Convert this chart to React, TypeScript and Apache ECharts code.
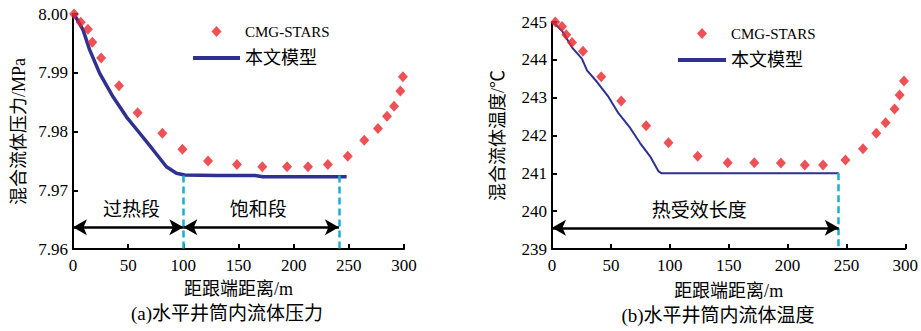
import React, { useEffect, useRef } from "react";
import * as echarts from "echarts";

// ---------- (a) pressure ----------
const cmgPressureX = [1, 7, 13.5, 17.5, 25.5, 41.7, 58.6, 81, 99.2, 122.4, 148.6, 171.6, 194, 213, 231, 249, 264, 276.4, 284.6, 291, 296.7, 299];
const cmgPressure = [8.0, 7.9986, 7.9974, 7.9952, 7.9925, 7.9878, 7.9832, 7.9797, 7.977, 7.975, 7.9744, 7.974, 7.974, 7.974, 7.9744, 7.9758, 7.9785, 7.9805, 7.9826, 7.9843, 7.9869, 7.9893];
const modelPressureX = [0, 1.5, 9.1, 15.1, 24.2, 36.3, 48.4, 60.5, 72.5, 84.7, 93.7, 101.2, 130, 165, 172, 248];
const modelPressure = [8.0, 7.9998, 7.9973, 7.9939, 7.9899, 7.9859, 7.9825, 7.9797, 7.9769, 7.974, 7.9729, 7.9726, 7.9725, 7.9725, 7.9723, 7.9723];
const pressureBoundaryX = [100, 241];
const pressureLineLevel = 7.9725;
const pressureArrowY = 7.9637;
const pressureLabelY = 7.9668;
const pressureLabels = ["过热段", "饱和段"];
const pressureLabelX = [53, 168];
const pressureTicks = [7.96, 8.0, 0.01];

// ---------- (b) temperature ----------
const cmgTempX = [2.8, 8.5, 12.1, 17, 26.3, 41.8, 58.8, 80, 98.9, 123.7, 149.2, 171.8, 194.4, 214.7, 230.2, 249.2, 264.1, 275.4, 283.3, 290.9, 295.2, 298.9];
const cmgTemp = [245.0, 244.88, 244.66, 244.46, 244.23, 243.55, 242.91, 242.26, 241.81, 241.45, 241.28, 241.28, 241.27, 241.22, 241.22, 241.35, 241.65, 242.06, 242.34, 242.7, 243.07, 243.44];
const modelTempX = [0, 1.4, 8.5, 16.9, 25.4, 29.7, 38.1, 48.0, 56.4, 66.4, 74.8, 83.3, 90.3, 93.2, 243.5];
const modelTemp = [245.0, 244.98, 244.77, 244.33, 244.03, 243.72, 243.42, 243.02, 242.59, 242.2, 241.8, 241.45, 241.06, 241.0, 241.0];
const tempBoundaryX = [243.5];
const tempLineLevel = 241.0;
const tempArrowY = 239.56;
const tempLabel = "热受效长度";
const tempLabelPos = [125, 240.02];
const tempTicks = [239, 245, 1];

const xTicks = [0, 300, 50];

const SERIF = '"Liberation Serif", "Noto Sans CJK SC", serif';
const RED = "#e8262a";
const BLUE = "#2e3192";
const CYAN = "#1aaed0";

const zip = (xs: number[], ys: number[]) => xs.map((x, i) => [x, ys[i]]);

export default function App() {
  const ref = useRef<HTMLDivElement>(null);
  useEffect(() => {
    if (!ref.current) return;
    const chart = echarts.init(ref.current, null, { renderer: "svg" });

    const axisCommon = {
      axisLine: { show: true, lineStyle: { color: "#000", width: 2 } },
      axisTick: { show: true, inside: true, length: 5, lineStyle: { color: "#000", width: 2 } },
      splitLine: { show: false },
      nameTextStyle: { color: "#000", fontSize: 18, fontFamily: SERIF },
    };
    const labelStyle = { color: "#000", fontSize: 17, fontFamily: SERIF };

    const arrowLine = (x0: number, x1: number, y: number) => [
      { coord: [x0, y], symbol: "arrow", symbolSize: [12, 14], lineStyle: { color: "#000", width: 2.5, type: "solid" } },
      { coord: [x1, y], symbol: "arrow", symbolSize: [12, 14] },
    ];
    const dashLine = (x: number, yTop: number, yBot: number) => [
      { coord: [x, yTop], symbol: "none", lineStyle: { color: CYAN, width: 2.5, type: [7, 4] } },
      { coord: [x, yBot], symbol: "none" },
    ];
    const textPoint = (name: string, x: number, y: number) => ({
      name,
      coord: [x, y],
      symbol: "circle",
      symbolSize: 1,
      itemStyle: { color: "rgba(0,0,0,0)" },
      label: { show: true, position: "inside", formatter: name, color: "#000", fontSize: 19, fontFamily: SERIF },
    });

    const legendFormatter = (name: string) => (name === "CMG-STARS" ? `{a|${name}}` : `{b|${name}}`);
    const legendRich = {
      a: { fontSize: 15, fontFamily: SERIF, color: "#000" },
      b: { fontSize: 18, fontFamily: SERIF, color: "#000" },
    };
    const legendData = [
      { name: "CMG-STARS", icon: "path://M5,0L10,5.5L5,11L0,5.5Z" },
      { name: "本文模型", icon: "path://M0,0L46,0L46,4L0,4Z" },
    ];

    chart.setOption({
      animation: false,
      backgroundColor: "#fff",
      grid: [
        { left: 73, top: 14, width: 331, height: 235 },
        { left: 552, top: 22, width: 354, height: 227 },
      ],
      legend: [
        {
          left: 188, top: 19, orient: "vertical", itemWidth: 47, itemHeight: 11, itemGap: 10,
          symbolKeepAspect: true,
          data: legendData, formatter: legendFormatter, textStyle: { rich: legendRich },
          selectedMode: false,
        },
        {
          left: 673, top: 21, orient: "vertical", itemWidth: 48, itemHeight: 11, itemGap: 10,
          symbolKeepAspect: true,
          data: legendData, formatter: legendFormatter, textStyle: { rich: legendRich },
          selectedMode: false,
        },
      ],
      xAxis: [
        {
          ...axisCommon, gridIndex: 0, type: "value", min: xTicks[0], max: xTicks[1], interval: xTicks[2],
          axisLabel: { ...labelStyle, margin: 8 },
          name: "距跟端距离/m", nameLocation: "middle", nameGap: 31,
        },
        {
          ...axisCommon, gridIndex: 1, type: "value", min: xTicks[0], max: xTicks[1], interval: xTicks[2],
          axisLabel: { ...labelStyle, margin: 8 },
          name: "距跟端距离/m", nameLocation: "middle", nameGap: 33,
        },
      ],
      yAxis: [
        {
          ...axisCommon, gridIndex: 0, type: "value", min: pressureTicks[0], max: pressureTicks[1], interval: pressureTicks[2],
          axisLabel: { ...labelStyle, margin: 5, formatter: (v: number) => v.toFixed(2) },
          name: "混合流体压力/MPa", nameLocation: "middle", nameGap: 45, nameRotate: 90,
        },
        {
          ...axisCommon, gridIndex: 1, type: "value", min: tempTicks[0], max: tempTicks[1], interval: tempTicks[2],
          axisLabel: { ...labelStyle, margin: 5 },
          name: "混合流体温度/℃", nameLocation: "middle", nameGap: 45, nameRotate: 90,
        },
      ],
      graphic: [
        {
          type: "text", x: 227, y: 313,
          style: { text: "(a)水平井筒内流体压力", font: `19px ${SERIF}`, fill: "#000", align: "center", verticalAlign: "middle" },
        },
        {
          type: "text", x: 718, y: 315,
          style: { text: "(b)水平井筒内流体温度", font: `19px ${SERIF}`, fill: "#000", align: "center", verticalAlign: "middle" },
        },
      ],
      series: [
        {
          name: "本文模型", type: "line", xAxisIndex: 0, yAxisIndex: 0,
          data: zip(modelPressureX, modelPressure), showSymbol: false, symbol: "none",
          lineStyle: { color: BLUE, width: 3.5 }, itemStyle: { color: BLUE }, z: 3,
          markLine: {
            silent: true, animation: false, label: { show: false },
            data: [
              dashLine(pressureBoundaryX[0], pressureLineLevel, pressureTicks[0]),
              dashLine(pressureBoundaryX[1], pressureLineLevel, pressureTicks[0]),
              arrowLine(0, pressureBoundaryX[0], pressureArrowY),
              arrowLine(pressureBoundaryX[0], pressureBoundaryX[1], pressureArrowY),
            ],
          },
          markPoint: {
            silent: true, animation: false,
            data: pressureLabels.map((t, i) => textPoint(t, pressureLabelX[i], pressureLabelY)),
          },
        },
        {
          name: "CMG-STARS", type: "scatter", xAxisIndex: 0, yAxisIndex: 0,
          data: zip(cmgPressureX, cmgPressure), symbol: "diamond", symbolSize: [10, 11],
          itemStyle: { color: RED }, z: 4,
        },
        {
          name: "本文模型", type: "line", xAxisIndex: 1, yAxisIndex: 1,
          data: zip(modelTempX, modelTemp), showSymbol: false, symbol: "none",
          lineStyle: { color: BLUE, width: 2 }, itemStyle: { color: BLUE }, z: 3,
          markLine: {
            silent: true, animation: false, label: { show: false },
            data: [
              dashLine(tempBoundaryX[0], tempLineLevel, tempTicks[0]),
              arrowLine(0, tempBoundaryX[0], tempArrowY),
            ],
          },
          markPoint: {
            silent: true, animation: false,
            data: [textPoint(tempLabel, tempLabelPos[0], tempLabelPos[1])],
          },
        },
        {
          name: "CMG-STARS", type: "scatter", xAxisIndex: 1, yAxisIndex: 1,
          data: zip(cmgTempX, cmgTemp), symbol: "diamond", symbolSize: [10, 11],
          itemStyle: { color: RED }, z: 4,
        },
      ],
    });
    return () => chart.dispose();
  }, []);

  return (
    <div
      ref={ref}
      style={{ position: "fixed", left: 0, top: 0, width: 921, height: 331, background: "#fff" }}
    />
  );
}
